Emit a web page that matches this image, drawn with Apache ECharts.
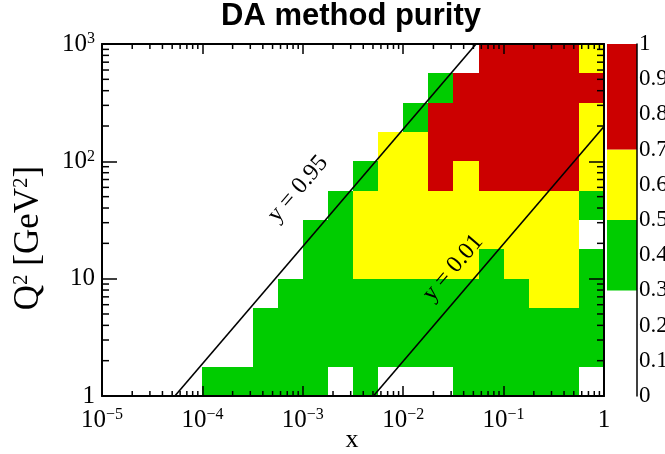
<!DOCTYPE html>
<html>
<head>
<meta charset="utf-8">
<script src="https://cdn.jsdelivr.net/npm/echarts@6/dist/echarts.min.js"></script>
<style>
  html, body { margin: 0; padding: 0; background: #fff; }
  #chart { width: 665px; height: 454px; }
</style>
</head>
<body>
<div id="chart"></div>
<script>
// Phase-space limits
const X_MIN = 1e-5, X_MAX = 1;
const Q2_MIN = 1, Q2_MAX = 1000;

// Quarter-decade binning in x and Q2
const xBinEdges = Array.from({ length: 21 }, (_, i) => Math.pow(10, -5 + i / 4));
const q2BinEdges = Array.from({ length: 13 }, (_, j) => Math.pow(10, j / 4));

// Purity per bin: one row per Q2 bin (lowest first), one column per x bin (lowest first)
const purityRow0  = [null, null, null, null, 0.4, 0.4, 0.4, 0.4, 0.4, null, 0.4, null, null, null, 0.4, 0.4, 0.4, 0.4, 0.4, null];
const purityRow1  = [null, null, null, null, null, null, 0.4, 0.4, 0.4, 0.4, 0.4, 0.4, 0.4, 0.4, 0.4, 0.4, 0.4, 0.4, 0.4, 0.4];
const purityRow2  = [null, null, null, null, null, null, 0.4, 0.4, 0.4, 0.4, 0.4, 0.4, 0.4, 0.4, 0.4, 0.4, 0.4, 0.4, 0.4, 0.4];
const purityRow3  = [null, null, null, null, null, null, null, 0.4, 0.4, 0.4, 0.4, 0.4, 0.4, 0.4, 0.4, 0.4, 0.4, 0.6, 0.6, 0.4];
const purityRow4  = [null, null, null, null, null, null, null, null, 0.4, 0.4, 0.6, 0.6, 0.6, 0.6, 0.6, 0.4, 0.6, 0.6, 0.6, 0.4];
const purityRow5  = [null, null, null, null, null, null, null, null, 0.4, 0.4, 0.6, 0.6, 0.6, 0.6, 0.6, 0.6, 0.6, 0.6, 0.6, null];
const purityRow6  = [null, null, null, null, null, null, null, null, null, 0.4, 0.6, 0.6, 0.6, 0.6, 0.6, 0.6, 0.6, 0.6, 0.6, 0.4];
const purityRow7  = [null, null, null, null, null, null, null, null, null, null, 0.4, 0.6, 0.6, 0.85, 0.6, 0.85, 0.85, 0.85, 0.85, 0.6];
const purityRow8  = [null, null, null, null, null, null, null, null, null, null, null, 0.6, 0.6, 0.85, 0.85, 0.85, 0.85, 0.85, 0.85, 0.6];
const purityRow9  = [null, null, null, null, null, null, null, null, null, null, null, null, 0.4, 0.85, 0.85, 0.85, 0.85, 0.85, 0.85, 0.6];
const purityRow10 = [null, null, null, null, null, null, null, null, null, null, null, null, null, 0.4, 0.85, 0.85, 0.85, 0.85, 0.85, 0.85];
const purityRow11 = [null, null, null, null, null, null, null, null, null, null, null, null, null, null, null, 0.85, 0.85, 0.85, 0.85, 0.6];
const purityRows = [purityRow0, purityRow1, purityRow2, purityRow3, purityRow4, purityRow5,
                    purityRow6, purityRow7, purityRow8, purityRow9, purityRow10, purityRow11];

// Colour palette: band edges and their fill colours
const zBandEdges = [0, 0.3, 0.5, 0.7, 1.0];
const zBandColors = ['rgba(0,0,0,0)', '#00cc00', '#ffff00', '#cc0000'];
const zTickStep = 0.1;

// Lines of constant inelasticity y, with Q2 = s * x * y
const S_CM = 19800; // GeV^2, 18 GeV electrons on 275 GeV protons
const inelasticityLines = [0.95, 0.01];
const inelasticityLabels = ['y = 0.95', 'y = 0.01'];

// Axis titles
const xTitle = 'x';
const yTitleRich = '{m|Q}{s|2}{m| [GeV}{s|2}{m|]}';
const plotTitle = 'DA method purity';

function bandColor(v) {
  for (let k = 0; k < zBandColors.length; k++) {
    if (v >= zBandEdges[k] && (v < zBandEdges[k + 1] || k === zBandColors.length - 1)) return zBandColors[k];
  }
  return 'rgba(0,0,0,0)';
}

// Flatten the table into [xLo, xHi, q2Lo, q2Hi, purity]
const cellData = [];
purityRows.forEach((row, j) => {
  row.forEach((v, i) => {
    if (v !== null) cellData.push([xBinEdges[i], xBinEdges[i + 1], q2BinEdges[j], q2BinEdges[j + 1], v]);
  });
});

// Minor tick positions (2..9 within each decade)
const xMinor = [], q2Minor = [];
for (let k = -5; k < 0; k++) for (let m = 2; m <= 9; m++) xMinor.push([m * Math.pow(10, k), Q2_MIN]);
for (let k = 0; k < 3; k++) for (let m = 2; m <= 9; m++) q2Minor.push([X_MIN, m * Math.pow(10, k)]);

const SERIF = 'Liberation Serif, Times New Roman, serif';
const supRich = {
  b: { fontFamily: SERIF, fontSize: 25, color: '#000', lineHeight: 26 },
  s: { fontFamily: SERIF, fontSize: 16, color: '#000', lineHeight: 16, verticalAlign: 'top' }
};

function decadeLabel(v) {
  const e = Math.round(Math.log10(v));
  if (e === 0) return '{b|1}';
  if (e === 1) return '{b|10}';
  return '{b|10}{s|' + (e < 0 ? '\u2212' + (-e) : e) + '}';
}

const frameLine = { lineStyle: { color: '#000', width: 2 } };
const tickStyle = { color: '#000', width: 1.5 };

const chart = echarts.init(document.getElementById('chart'), null, { renderer: 'canvas' });

const option = {
  animation: false,
  backgroundColor: '#fff',
  title: {
    text: plotTitle,
    left: 221, top: 1, padding: 0,
    textStyle: { fontFamily: 'Liberation Sans, Arial, sans-serif', fontWeight: 'bold', fontSize: 31, color: '#000' }
  },
  grid: [
    { left: 102, top: 44, width: 502, height: 352, containLabel: false, outerBoundsMode: 'none' },
    { left: 607, top: 44, width: 30, height: 352, containLabel: false, outerBoundsMode: 'none' }
  ],
  xAxis: [
    {
      type: 'log', logBase: 10, gridIndex: 0, min: X_MIN, max: X_MAX, splitNumber: 5, position: 'bottom', z: 10,
      axisLine: frameLine, splitLine: { show: false },
      axisTick: { inside: true, length: 10, lineStyle: tickStyle },
      axisLabel: { formatter: decadeLabel, rich: supRich, margin: 11 }
    },
    {
      type: 'log', logBase: 10, gridIndex: 0, min: X_MIN, max: X_MAX, splitNumber: 5, position: 'top', z: 10,
      axisLine: frameLine, splitLine: { show: false },
      axisTick: { inside: true, length: 10, lineStyle: tickStyle },
      axisLabel: { show: false }
    },
    { type: 'category', gridIndex: 1, data: ['z'], show: false }
  ],
  yAxis: [
    {
      type: 'log', logBase: 10, gridIndex: 0, min: Q2_MIN, max: Q2_MAX, splitNumber: 3, position: 'left', z: 10,
      axisLine: frameLine, splitLine: { show: false },
      axisTick: { inside: true, length: 15, lineStyle: tickStyle },
      axisLabel: { formatter: decadeLabel, rich: supRich, margin: 7 }
    },
    {
      type: 'log', logBase: 10, gridIndex: 0, min: Q2_MIN, max: Q2_MAX, splitNumber: 3, position: 'right', z: 10,
      axisLine: frameLine, splitLine: { show: false },
      axisTick: { inside: true, length: 15, lineStyle: tickStyle },
      axisLabel: { show: false }
    },
    {
      type: 'value', gridIndex: 1, min: 0, max: 1, interval: zTickStep, position: 'right', z: 10,
      axisLine: { show: true, lineStyle: { color: '#000', width: 1.5 } },
      splitLine: { show: false },
      axisTick: { inside: true, length: 15, lineStyle: tickStyle },
      axisLabel: {
        margin: 2, fontFamily: SERIF, fontSize: 23, color: '#000',
        formatter: v => (Math.abs(v) < 1e-9 ? '0' : Math.abs(v - 1) < 1e-9 ? '1' : v.toFixed(1))
      }
    }
  ],
  series: [
    {
      type: 'custom', name: 'purity', xAxisIndex: 0, yAxisIndex: 0, z: 2, silent: true,
      dimensions: ['xLo', 'xHi', 'q2Lo', 'q2Hi', 'purity'],
      encode: { x: [0, 1], y: [2, 3] },
      data: cellData,
      renderItem: function (params, api) {
        const a = api.coord([api.value(0), api.value(2)]);
        const b = api.coord([api.value(1), api.value(3)]);
        const x0 = Math.round(a[0]), x1 = Math.round(b[0]);
        const y0 = Math.round(b[1]), y1 = Math.round(a[1]);
        return {
          type: 'rect',
          shape: { x: x0, y: y0, width: x1 - x0, height: y1 - y0 },
          style: { fill: bandColor(api.value(4)) }
        };
      }
    },
    ...inelasticityLines.map(y => ({
      type: 'line', xAxisIndex: 0, yAxisIndex: 0, z: 3, silent: true, showSymbol: false,
      lineStyle: { color: '#000', width: 1.6 },
      data: [
        [Q2_MIN / (S_CM * y), Q2_MIN],
        [Math.min(X_MAX, Q2_MAX / (S_CM * y)), Math.min(Q2_MAX, S_CM * y * X_MAX)]
      ]
    })),
    {
      type: 'custom', xAxisIndex: 0, yAxisIndex: 0, z: 5, silent: true, clip: false,
      encode: { x: 0, y: 1 },
      data: xMinor,
      renderItem: function (params, api) {
        const b = api.coord([api.value(0), Q2_MIN]);
        const t = api.coord([api.value(0), Q2_MAX]);
        const st = { stroke: '#000', lineWidth: 1.5 };
        return { type: 'group', children: [
          { type: 'line', shape: { x1: b[0], y1: b[1], x2: b[0], y2: b[1] - 5 }, style: st },
          { type: 'line', shape: { x1: t[0], y1: t[1], x2: t[0], y2: t[1] + 5 }, style: st }
        ] };
      }
    },
    {
      type: 'custom', xAxisIndex: 0, yAxisIndex: 0, z: 5, silent: true, clip: false,
      encode: { x: 0, y: 1 },
      data: q2Minor,
      renderItem: function (params, api) {
        const l = api.coord([X_MIN, api.value(1)]);
        const r = api.coord([X_MAX, api.value(1)]);
        const st = { stroke: '#000', lineWidth: 1.5 };
        return { type: 'group', children: [
          { type: 'line', shape: { x1: l[0], y1: l[1], x2: l[0] + 7, y2: l[1] }, style: st },
          { type: 'line', shape: { x1: r[0], y1: r[1], x2: r[0] - 7, y2: r[1] }, style: st }
        ] };
      }
    },
    ...zBandColors.map((c, k) => ({
      type: 'bar', xAxisIndex: 2, yAxisIndex: 2, stack: 'palette', silent: true,
      barWidth: '100%', itemStyle: { color: c },
      data: [zBandEdges[k + 1] - zBandEdges[k]]
    }))
  ],
  graphic: {
    elements: [
      {
        type: 'text', x: 29, y: 238, rotation: Math.PI / 2, silent: true, z: 100,
        style: {
          text: yTitleRich, align: 'center', verticalAlign: 'middle',
          rich: {
            m: { fontFamily: SERIF, fontSize: 35, color: '#000', lineHeight: 36 },
            s: { fontFamily: SERIF, fontSize: 21, color: '#000', lineHeight: 21, verticalAlign: 'top' }
          }
        }
      },
      {
        type: 'text', x: 352, y: 440, silent: true, z: 100,
        style: { text: xTitle, font: '26px ' + SERIF, fill: '#000', align: 'center', verticalAlign: 'middle' }
      },
      {
        type: 'text', x: 298, y: 189, rotation: 49.4 * Math.PI / 180, silent: true, z: 100,
        style: { text: inelasticityLabels[0], font: '24px ' + SERIF, fill: '#000', align: 'center', verticalAlign: 'middle' }
      },
      {
        type: 'text', x: 453, y: 268, rotation: 49.4 * Math.PI / 180, silent: true, z: 100,
        style: { text: inelasticityLabels[1], font: '24px ' + SERIF, fill: '#000', align: 'center', verticalAlign: 'middle' }
      }
    ]
  }
};

chart.setOption(option);
</script>
</body>
</html>
